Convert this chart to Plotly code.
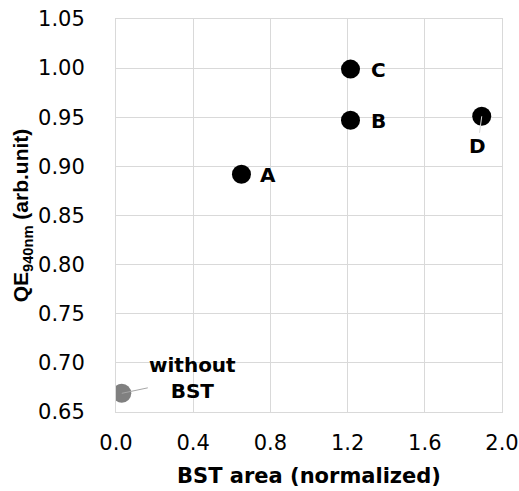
import plotly.graph_objects as go

# Data
labels = ["without<br>BST", "A", "B", "C", "D"]
bst_area = [0.03, 0.65, 1.215, 1.215, 1.895]
qe = [0.669, 0.892, 0.947, 0.999, 0.951]
colors = ["#808080", "#000000", "#000000", "#000000", "#000000"]

x_ticks = [0.0, 0.4, 0.8, 1.2, 1.6, 2.0]
y_ticks = [0.65, 0.70, 0.75, 0.80, 0.85, 0.90, 0.95, 1.00, 1.05]

FONT_H = "DejaVu Sans, sans-serif"
FONT_V = "Liberation Sans, Arial, sans-serif"

fig = go.Figure()
fig.add_trace(go.Scatter(
    x=bst_area, y=qe, mode="markers",
    marker=dict(size=19, color=colors, line=dict(width=0)),
    showlegend=False, hoverinfo="skip",
))

# label offsets (px)
label_style = {
    "without<br>BST": dict(ax=71, ay=-15, showarrow=True, arrowcolor="#a6a6a6"),
    "A": dict(ax=27, ay=1, showarrow=False),
    "B": dict(ax=28, ay=1, showarrow=False),
    "C": dict(ax=28, ay=1, showarrow=False),
    "D": dict(ax=-4, ay=30, showarrow=True, arrowcolor="#d9d9d9"),
}
for lab, xv, yv in zip(labels, bst_area, qe):
    st = label_style[lab]
    if st["showarrow"]:
        fig.add_annotation(x=xv, y=yv, text="<b>%s</b>" % lab, showarrow=True,
                           ax=st["ax"], ay=st["ay"], arrowhead=0, arrowwidth=1,
                           arrowcolor=st["arrowcolor"], standoff=0,
                           font=dict(family=FONT_H, size=20, color="#000000"))
    else:
        fig.add_annotation(x=xv, y=yv, text="<b>%s</b>" % lab, showarrow=False,
                           xshift=st["ax"], yshift=-st["ay"],
                           font=dict(family=FONT_H, size=20, color="#000000"))

fig.update_layout(
    width=519, height=491,
    margin=dict(l=116, r=17, t=19, b=79),
    paper_bgcolor="white", plot_bgcolor="white",
    font=dict(family=FONT_H, size=21, color="#000000"),
)
fig.update_xaxes(
    range=[0, 2.0], tickvals=x_ticks, ticktext=["%.1f" % v for v in x_ticks],
    showgrid=True, gridcolor="#d9d9d9", gridwidth=1,
    showline=True, linecolor="#d9d9d9", linewidth=1, mirror=True,
    zeroline=False, ticks="", ticklen=0, automargin=False,
    ticklabelstandoff=12,
    tickfont=dict(family=FONT_H, size=21, color="#000000"),
    title=dict(text="<b>BST area (normalized)</b>", standoff=14,
               font=dict(family=FONT_H, size=21, color="#000000")),
)
fig.update_yaxes(
    range=[0.65, 1.05], tickvals=y_ticks, ticktext=["%.2f" % v for v in y_ticks],
    showgrid=True, gridcolor="#d9d9d9", gridwidth=1,
    showline=True, linecolor="#d9d9d9", linewidth=1, mirror=True,
    zeroline=False, ticks="", ticklen=0, automargin=False,
    ticklabelstandoff=26,
    tickfont=dict(family=FONT_H, size=21, color="#000000"),
    title=dict(text="<b>QE<sub>940nm</sub> (arb.unit)</b>", standoff=3,
               font=dict(family=FONT_V, size=21, color="#000000")),
)

fig.write_html("out.html")
